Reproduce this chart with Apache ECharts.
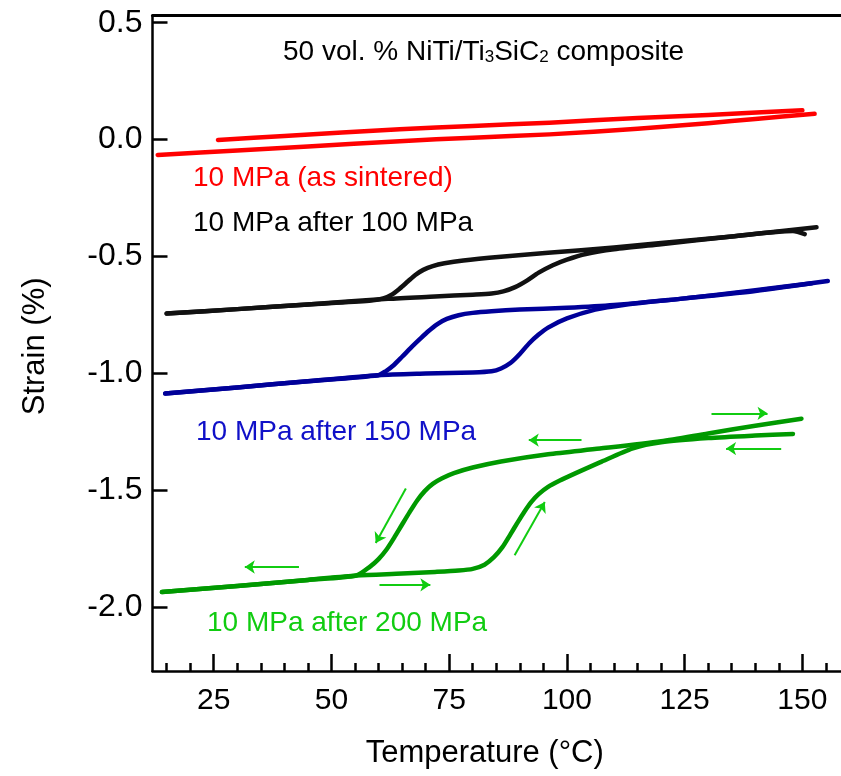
<!DOCTYPE html>
<html><head><meta charset="utf-8">
<script src="https://cdn.jsdelivr.net/npm/echarts@6/dist/echarts.min.js"></script>
<style>html,body{margin:0;padding:0;background:#fff}#c{width:841px;height:776px}</style>
</head><body><div id="c"></div>
<script>
// ---- axis ticks ----
const xTicksMajor = [25, 50, 75, 100, 125, 150];
const xTicksMinor = [15, 20, 30, 35, 40, 45, 55, 60, 65, 70, 80, 85, 90, 95, 105, 110, 115, 120, 130, 135, 140, 145, 155];
const yTicks = [-2.0, -1.5, -1.0, -0.5, 0.0, 0.5];

// ---- 10 MPa (as sintered) ----
const redHeatT = [25.9, 40, 64.5, 80, 96.3, 115, 130, 150];
const redHeatS = [-0.002, 0.015, 0.044, 0.058, 0.072, 0.092, 0.105, 0.125];
const redCoolT = [152.6, 140, 130, 115, 96.3, 80, 64.5, 45, 30, 13.1];
const redCoolS = [0.110, 0.088, 0.070, 0.046, 0.022, 0.008, -0.007, -0.030, -0.047, -0.066];

// ---- 10 MPa after 100 MPa ----
const blackHeatT = [15, 30, 45, 62, 72, 80, 84, 86.5, 89, 91.5, 94, 97, 100, 104, 110, 120, 135, 153];
const blackHeatS = [-0.745, -0.726, -0.706, -0.682, -0.672, -0.664, -0.659, -0.650, -0.632, -0.604, -0.570, -0.538, -0.514, -0.490, -0.470, -0.448, -0.415, -0.376];
const blackCoolT = [150.5, 148, 135, 120, 110, 96, 86, 78, 74, 71.5, 69.5, 67.8, 66.2, 64.5, 62.8, 61, 58, 45, 30, 15];
const blackCoolS = [-0.405, -0.392, -0.415, -0.443, -0.462, -0.485, -0.502, -0.518, -0.530, -0.542, -0.558, -0.580, -0.608, -0.638, -0.664, -0.680, -0.690, -0.706, -0.726, -0.745];

// ---- 10 MPa after 150 MPa ----
const blueHeatT = [14.7, 30, 45, 60, 70, 80, 84, 86, 88, 90, 92, 94, 96, 100, 106, 112, 125, 140, 155.4];
const blueHeatS = [-1.087, -1.061, -1.035, -1.009, -1.002, -0.997, -0.992, -0.980, -0.957, -0.918, -0.872, -0.835, -0.805, -0.766, -0.728, -0.708, -0.680, -0.648, -0.606];
const blueCoolT = [152, 140, 125, 110, 100, 90, 84, 80, 77, 74.5, 72.5, 70.5, 68.7, 66.8, 65, 63.2, 61.5, 59.9, 45, 30, 14.7];
const blueCoolS = [-0.615, -0.645, -0.680, -0.708, -0.720, -0.728, -0.735, -0.742, -0.752, -0.768, -0.790, -0.822, -0.856, -0.893, -0.930, -0.966, -0.992, -1.009, -1.035, -1.061, -1.087];

// ---- 10 MPa after 200 MPa ----
const greenHeatT = [14, 30, 45, 55.3, 65, 72, 77, 80, 82.5, 84.5, 86.3, 88, 89.5, 91, 92.5, 94, 96, 98.5, 102, 107, 114, 120, 130, 140, 148];
const greenHeatS = [-1.937, -1.911, -1.885, -1.866, -1.858, -1.851, -1.845, -1.838, -1.820, -1.788, -1.745, -1.690, -1.640, -1.592, -1.550, -1.518, -1.487, -1.460, -1.427, -1.382, -1.322, -1.296, -1.278, -1.267, -1.260];
const greenCoolT = [149.8, 140, 130, 120, 107, 96, 86, 80, 76, 73.5, 71.5, 69.8, 68.2, 66.6, 65, 63.3, 61.7, 60, 58.2, 55.3, 45, 30, 14];
const greenCoolS = [-1.195, -1.225, -1.258, -1.292, -1.323, -1.347, -1.378, -1.404, -1.428, -1.450, -1.474, -1.505, -1.545, -1.595, -1.648, -1.705, -1.755, -1.796, -1.828, -1.866, -1.885, -1.911, -1.937];

// ---- direction arrows (from T,S -> to T,S) ----
const arrowFromT = [130.7, 145.5, 103.1, 65.8, 88.9, 43.1, 60.2];
const arrowFromS = [-1.172, -1.323, -1.287, -1.494, -1.780, -1.830, -1.906];
const arrowToT   = [142.6, 133.8, 91.9, 59.4, 95.3, 31.6, 71.0];
const arrowToS   = [-1.172, -1.323, -1.287, -1.727, -1.552, -1.830, -1.906];

const FONT = '"Liberation Sans", Arial, Helvetica, sans-serif';
const zip = (a, b) => a.map((v, i) => [v, b[i]]);

const curves = [
  {t: redHeatT, s: redHeatS, c: '#ff0000'},
  {t: redCoolT, s: redCoolS, c: '#ff0000'},
  {t: blackHeatT, s: blackHeatS, c: '#111111'},
  {t: blackCoolT, s: blackCoolS, c: '#111111'},
  {t: blueHeatT, s: blueHeatS, c: '#000099'},
  {t: blueCoolT, s: blueCoolS, c: '#000099'},
  {t: greenHeatT, s: greenHeatS, c: '#009900'},
  {t: greenCoolT, s: greenCoolS, c: '#009900'}
];

const series = curves.map(cv => ({
  type: 'line',
  xAxisIndex: 0, yAxisIndex: 0,
  data: zip(cv.t, cv.s),
  showSymbol: false, symbol: 'none',
  smooth: 0.25,
  lineStyle: {color: cv.c, width: 4.5, cap: 'round', join: 'round'},
  z: 3
}));

series.push({
  type: 'lines',
  coordinateSystem: 'cartesian2d',
  xAxisIndex: 0, yAxisIndex: 0,
  symbol: ['none', 'arrow'],
  symbolSize: 10,
  lineStyle: {color: '#11cc11', width: 2, opacity: 1, curveness: 0},
  data: arrowFromT.map((t, i) => ({coords: [[t, arrowFromS[i]], [arrowToT[i], arrowToS[i]]]})),
  z: 4
});

const chart = echarts.init(document.getElementById('c'));
chart.setOption({
  animation: false,
  backgroundColor: '#fff',
  grid: {left: 152.5, right: 0, top: 15.7, bottom: 105, containLabel: false},
  xAxis: [
    {
      type: 'value', min: 12, max: 158.2, position: 'bottom',
      axisLine: {show: true, onZero: false, lineStyle: {color: '#000', width: 2.5}},
      axisTick: {show: true, inside: true, length: 17, customValues: xTicksMajor, lineStyle: {color: '#000', width: 2.5}},
      axisLabel: {show: true, customValues: xTicksMajor, fontSize: 30, color: '#000', fontFamily: FONT, margin: 15},
      splitLine: {show: false},
      name: 'Temperature (°C)', nameLocation: 'middle', nameGap: 67,
      nameTextStyle: {fontSize: 31, color: '#000', fontFamily: FONT, padding: [0, 24, 0, 0]}
    },
    {
      type: 'value', min: 12, max: 158.2, position: 'bottom',
      axisLine: {show: false, onZero: false},
      axisTick: {show: true, inside: true, length: 8, customValues: xTicksMinor, lineStyle: {color: '#000', width: 2.5}},
      axisLabel: {show: false},
      splitLine: {show: false}
    },
    {
      type: 'value', min: 12, max: 158.2, position: 'top',
      axisLine: {show: true, onZero: false, lineStyle: {color: '#000', width: 3}},
      axisTick: {show: false}, axisLabel: {show: false}, splitLine: {show: false}
    }
  ],
  yAxis: [{
    type: 'value', min: -2.275, max: 0.53, position: 'left',
    axisLine: {show: true, onZero: false, lineStyle: {color: '#000', width: 2.5}},
    axisTick: {show: true, inside: true, length: 15, customValues: yTicks, lineStyle: {color: '#000', width: 2.5}},
    axisLabel: {show: true, customValues: yTicks, formatter: v => Number(v).toFixed(1), fontSize: 32, color: '#000', fontFamily: FONT, margin: 10},
    splitLine: {show: false},
    name: 'Strain (%)', nameLocation: 'middle', nameGap: 102,
    nameTextStyle: {fontSize: 31, color: '#000', fontFamily: FONT, padding: [0, 6, 0, 0]}
  }],
  graphic: [
    {type: 'text', left: 283, top: 38, style: {
      text: '50 vol. % NiTi/Ti{s|3}SiC{s|2} composite', fontSize: 28, fontFamily: FONT, fill: '#000',
      rich: {s: {fontSize: 17, fontFamily: FONT, fill: '#000', verticalAlign: 'bottom'}}
    }},
    {type: 'text', left: 193, top: 164, style: {text: '10 MPa (as sintered)', fontSize: 28, fontFamily: FONT, fill: '#ff0000'}},
    {type: 'text', left: 193, top: 209, style: {text: '10 MPa after 100 MPa', fontSize: 28, fontFamily: FONT, fill: '#000'}},
    {type: 'text', left: 196, top: 418, style: {text: '10 MPa after 150 MPa', fontSize: 28, fontFamily: FONT, fill: '#1010c8'}},
    {type: 'text', left: 207, top: 609, style: {text: '10 MPa after 200 MPa', fontSize: 28, fontFamily: FONT, fill: '#11cc11'}}
  ],
  series: series
});
</script>
</body></html>
